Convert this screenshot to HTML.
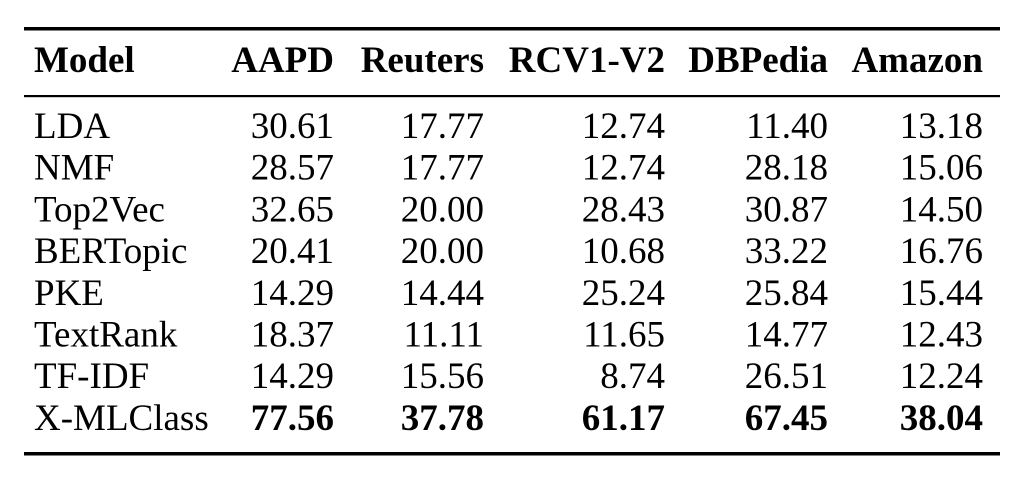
<!DOCTYPE html>
<html><head><meta charset="utf-8"><style>
html,body{margin:0;padding:0;background:#fff;}
svg{display:block;font-family:"Liberation Serif",serif;}
</style></head><body>
<svg width="1024" height="477" viewBox="0 0 1024 477">
<rect x="0" y="0" width="1024" height="477" fill="#fff"/>
<rect x="24" y="27" width="976" height="3.5" fill="#000"/>
<rect x="24" y="95" width="976" height="2.2" fill="#000"/>
<rect x="24" y="452" width="976" height="3.5" fill="#000"/>
<g id="tbl" font-size="37"></g>
</svg>
<script>
const headers=["Model","AAPD","Reuters","RCV1-V2","DBPedia","Amazon"];
const models=["LDA","NMF","Top2Vec","BERTopic","PKE","TextRank","TF-IDF","X-MLClass"];
const aapd=["30.61","28.57","32.65","20.41","14.29","18.37","14.29","77.56"];
const reuters=["17.77","17.77","20.00","20.00","14.44","11.11","15.56","37.78"];
const rcv1=["12.74","12.74","28.43","10.68","25.24","11.65","8.74","61.17"];
const dbpedia=["11.40","28.18","30.87","33.22","25.84","14.77","26.51","67.45"];
const amazon=["13.18","15.06","14.50","16.76","15.44","12.43","12.24","38.04"];
const cols=[aapd,reuters,rcv1,dbpedia,amazon];
const colRight=[334,484,665,828,983];
const g=document.getElementById('tbl');
const NS="http://www.w3.org/2000/svg";
function t(x,y,s,anchor,bold){const e=document.createElementNS(NS,'text');e.setAttribute('x',x);e.setAttribute('y',y);e.setAttribute('text-anchor',anchor);if(bold)e.setAttribute('font-weight','bold');e.textContent=s;g.appendChild(e);return e;}
let h=t(34,72,headers[0],'start',true);


for(let c=0;c<5;c++){const e=t(colRight[c],72,headers[c+1],'end',true);

}
for(let r=0;r<models.length;r++){
 const y=138+r*41.7;const last=r===models.length-1;
 const m=t(34,y,models[r],'start',false);
 
 
 for(let c=0;c<5;c++){const e=t(colRight[c],y,cols[c][r],'end',last);
 
 }
}
</script>
</body></html>
